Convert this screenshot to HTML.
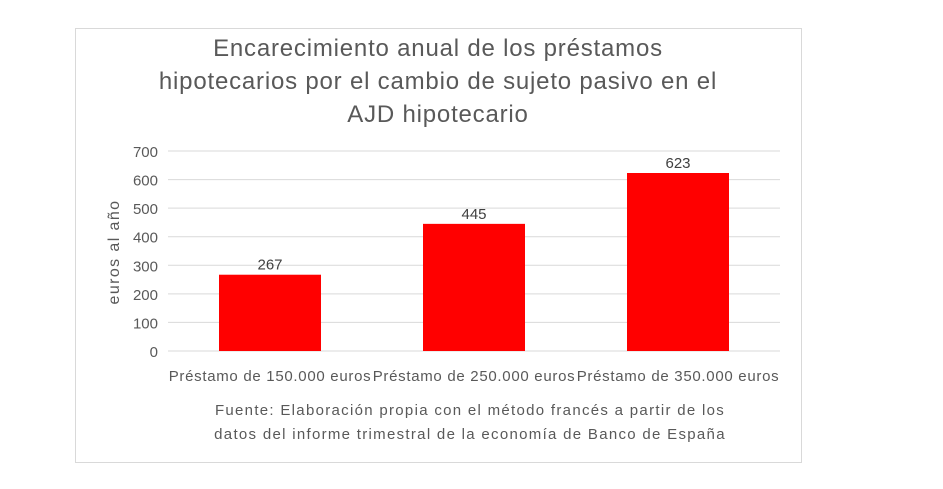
<!DOCTYPE html>
<html><head><meta charset="utf-8"><style>
body{margin:0;background:#fff;width:943px;height:489px;overflow:hidden;font-family:"Liberation Sans",sans-serif}
</style></head><body>
<svg id="c" width="943" height="489" style="position:absolute;left:0;top:0">
<rect x="75.5" y="28.5" width="726" height="434" fill="#fff" stroke="#d9d9d9"/>
<g font-size="24" fill="#595959" text-anchor="middle" letter-spacing="0.8">
<text x="438" y="56">Encarecimiento anual de los préstamos</text>
<text x="438" y="89">hipotecarios por el cambio de sujeto pasivo en el</text>
<text x="438" y="122">AJD hipotecario</text>
</g>
<g id="grid"></g><g id="bars"></g>
<text transform="translate(119,252) rotate(-90)" text-anchor="middle" font-size="16" letter-spacing="1.4" fill="#595959">euros al año</text>
<g font-size="15" fill="#595959" text-anchor="middle" letter-spacing="1.3">
<text x="470" y="415">Fuente: Elaboración propia con el método francés a partir de los</text>
<text x="470" y="439">datos del informe trimestral de la economía de Banco de España</text>
</g>
</svg>
<script>
const categories=["Préstamo de 150.000 euros","Préstamo de 250.000 euros","Préstamo de 350.000 euros"];
const values=[267,445,623];
const ticks=[0,100,200,300,400,500,600,700];
const NS="http://www.w3.org/2000/svg";
const x0=168,x1=780,yb=351,yt=151,ymax=700;
const y=v=>yb-(v/ymax)*(yb-yt);
const bw=(x1-x0)/categories.length;
function mk(t,a,p){const e=document.createElementNS(NS,t);for(const k in a)e.setAttribute(k,a[k]);p.appendChild(e);return e;}
const g=document.getElementById('grid'),b=document.getElementById('bars');
ticks.forEach(t=>{
 const l=mk('line',{x1:x0,x2:x1,y1:y(t),y2:y(t),stroke:'#d9d9d9','stroke-width':1},g);
 
 
 const tx=mk('text',{x:158,y:y(t)+6,'text-anchor':'end','font-size':15,fill:'#595959'},g);
 tx.textContent=t;
 
 
});
categories.forEach((c,i)=>{
 const cx=x0+bw*(i+0.5),w=bw*0.5;
 const r=mk('rect',{x:cx-w/2,y:y(values[i]),width:w,height:yb-y(values[i]),fill:'#ff0000'},b);
 
 
 const v=mk('text',{x:cx,y:y(values[i])-5,'text-anchor':'middle','font-size':15,fill:'#404040'},b);
 v.textContent=values[i];
 
 
 const l=mk('text',{x:cx,y:381,'text-anchor':'middle','font-size':15,'letter-spacing':0.7,fill:'#595959'},b);
 l.textContent=c;
 
 
});
</script>
</body></html>
